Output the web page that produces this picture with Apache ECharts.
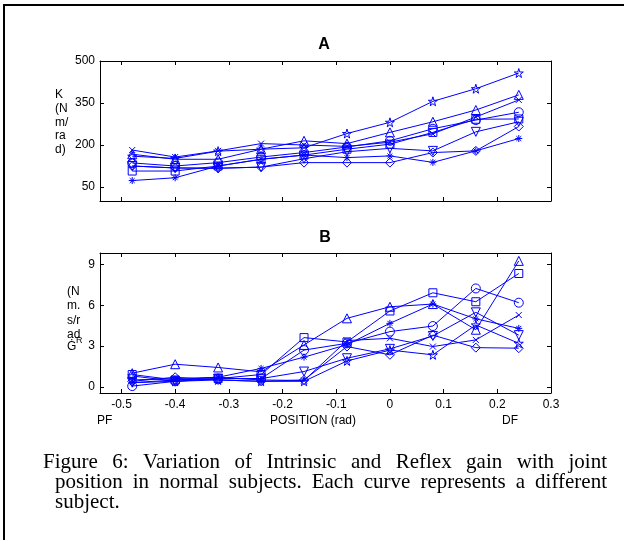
<!DOCTYPE html>
<html><head><meta charset="utf-8">
<script src="https://cdn.jsdelivr.net/npm/echarts@6/dist/echarts.min.js"></script>
<style>html,body{margin:0;padding:0;background:#fff}#c{width:624px;height:540px}</style>
</head><body><div id="c"></div><script>
// ---- data ----
const positions = [-0.48, -0.40, -0.32, -0.24, -0.16, -0.08, 0, 0.08, 0.16, 0.24];
const xTicks = [-0.5, -0.4, -0.3, -0.2, -0.1, 0, 0.1, 0.2, 0.3];
const kTicks = [50, 200, 350, 500];
const gTicks = [0, 3, 6, 9];

// Panel A: intrinsic stiffness K (N m/rad)
const kStar     = [160, 152, 178, 185, 190, 241, 281, 356, 401, 457];
const kTriUp    = [167, 149, 149, 185, 215, 205, 245, 283, 325, 379];
const kCross    = [182, 157, 179, 205, 200, 195, 210, 240, 300, 361];
const kCircle   = [136, 125, 137, 157, 173, 193, 215, 258, 289, 317];
const kSquare   = [107, 107, 125, 149, 164, 185, 203, 245, 292, 293];
const kTriDown  = [125, 118, 117, 121, 151, 176, 188, 179, 247, 283];
const kDiamond  = [125, 118, 117, 121, 137, 137, 137, 173, 179, 266];
const kAsterisk = [73, 83, 125, 149, 164, 155, 161, 138, 179, 223];

// Panel B: reflex gain G^R (N m.s/rad)
const gStar     = [0.8, 0.4, 0.5, 0.4, 0.4, 1.9, 2.7, 2.35, 4.55, 3.2];
const gTriUp    = [1.0, 1.66, 1.42, 1.1, 3.08, 5.04, 5.89, 6.09, 4.2, 9.27];
const gCross    = [0.5, 0.6, 0.7, 0.5, 0.46, 3.4, 3.57, 2.96, 3.45, 5.28];
const gCircle   = [0.05, 0.4, 0.6, 0.6, 2.7, 3.2, 4.06, 4.47, 7.24, 6.19];
const gSquare   = [0.9, 0.5, 0.6, 0.9, 3.62, 3.3, 5.58, 6.92, 6.26, 8.34];
const gTriDown  = [0.3, 0.4, 0.6, 0.6, 1.12, 2.1, 2.79, 3.74, 5.48, 3.8];
const gDiamond  = [0.4, 0.7, 0.5, 0.4, 0.5, 2.96, 2.35, 3.8, 2.88, 2.84];
const gAsterisk = [0.3, 0.5, 0.7, 1.35, 2.18, 3.1, 4.67, 6.09, 5.0, 4.3];

const captionLines = [
  'Figure 6: Variation of Intrinsic and Reflex gain with joint',
  'position in normal subjects. Each curve represents a different',
  'subject.'
];

// ---- styles ----
const BLUE = '#0000ff';
const SANS = 'Liberation Sans';
const SERIF = 'Liberation Serif';
const STAR = 'path://M50,0 L61,35 L98,35 L68,57 L79,91 L50,70 L21,91 L32,57 L2,35 L39,35 Z';
const TRI_DOWN = 'path://M0,0 L100,0 L50,87 Z';
const CROSS = 'path://M0,0 L100,100 M100,0 L0,100';
const ASTER = 'path://M50,0 L50,100 M0,50 L100,50 M15,15 L85,85 M85,15 L15,85';

const subjects = [
  {sym: STAR, size: 9, k: kStar, g: gStar},
  {sym: 'triangle', size: 9, k: kTriUp, g: gTriUp},
  {sym: CROSS, size: 6, k: kCross, g: gCross},
  {sym: 'circle', size: 9, k: kCircle, g: gCircle},
  {sym: 'rect', size: 8, k: kSquare, g: gSquare},
  {sym: TRI_DOWN, size: 9, k: kTriDown, g: gTriDown},
  {sym: 'diamond', size: 9, k: kDiamond, g: gDiamond},
  {sym: ASTER, size: 7, k: kAsterisk, g: gAsterisk}
];

function mkSeries(vals, sym, size, idx) {
  return {
    type: 'line', xAxisIndex: idx, yAxisIndex: idx,
    data: positions.map((x, i) => [x, vals[i]]),
    symbol: sym, symbolSize: size, showAllSymbol: true,
    lineStyle: {color: BLUE, width: 1},
    itemStyle: {color: 'rgba(0,0,0,0)', borderColor: BLUE, borderWidth: 1},
    emphasis: {disabled: true}, silent: true
  };
}

const lbl = {color: '#000', fontFamily: SANS, fontSize: 12};
function xAx(grid, pos, showLabel) {
  return {
    type: 'value', gridIndex: grid, position: pos, min: -0.54, max: 0.3,
    axisLine: {show: true, onZero: false, lineStyle: {color: '#000', width: 1}},
    axisTick: {show: true, inside: true, length: 4, customValues: xTicks, lineStyle: {color: '#000'}},
    axisLabel: Object.assign({show: showLabel, margin: 6, customValues: xTicks, formatter: v => String(v)}, lbl),
    splitLine: {show: false}
  };
}
function yAx(grid, pos, min, max, ticks, showLabel) {
  return {
    type: 'value', gridIndex: grid, position: pos, min: min, max: max,
    axisLine: {show: true, onZero: false, lineStyle: {color: '#000', width: 1}},
    axisTick: {show: true, inside: true, length: 4, customValues: ticks, lineStyle: {color: '#000'}},
    axisLabel: Object.assign({show: showLabel, margin: 5, customValues: ticks, formatter: v => String(v)}, lbl),
    splitLine: {show: false}
  };
}

// caption justification
const mctx = document.createElement('canvas').getContext('2d');
const CAP_FONT = 21;
mctx.font = CAP_FONT + 'px "' + SERIF + '"';
function captionWords(line, x0, x1, cy, justify) {
  const words = line.split(' ');
  const widths = words.map(w => mctx.measureText(w).width);
  const total = widths.reduce((a, b) => a + b, 0);
  const gap = justify && words.length > 1 ? (x1 - x0 - total) / (words.length - 1) : mctx.measureText(' ').width;
  let x = x0;
  return words.map((w, i) => {
    const el = {type: 'text', x: x, y: cy, style: {text: w, fill: '#000', font: CAP_FONT + 'px "' + SERIF + '"', verticalAlign: 'middle', align: 'left'}};
    x += widths[i] + gap;
    return el;
  });
}

const graphics = [
  {type: 'rect', shape: {x: 4, y: 5, width: 800, height: 800}, style: {fill: 'none', stroke: '#000', lineWidth: 2}},
  {type: 'text', x: 324, y: 45, style: {text: 'A', fill: '#000', font: 'bold 16px "' + SANS + '"', align: 'center', verticalAlign: 'middle'}},
  {type: 'text', x: 325, y: 238, style: {text: 'B', fill: '#000', font: 'bold 16px "' + SANS + '"', align: 'center', verticalAlign: 'middle'}},
  {type: 'text', x: 55, y: 88, style: {text: 'K\n(N\nm/\nra\nd)', fill: '#000', font: '12px "' + SANS + '"', lineHeight: 13.75, align: 'left', verticalAlign: 'top'}},
  {type: 'text', x: 67, y: 284, style: {text: '(N\nm.\ns/r\nad', fill: '#000', font: '12px "' + SANS + '"', lineHeight: 14.5, align: 'left', verticalAlign: 'top'}},
  {type: 'text', x: 67, y: 347, style: {text: '\u0120', fill: '#000', font: '12px "' + SANS + '"', align: 'left', verticalAlign: 'middle'}},
  {type: 'text', x: 76, y: 341, style: {text: 'R', fill: '#000', font: '9px "' + SANS + '"', align: 'left', verticalAlign: 'middle'}},
  {type: 'text', x: 97, y: 421, style: {text: 'PF', fill: '#000', font: '12px "' + SANS + '"', align: 'left', verticalAlign: 'middle'}},
  {type: 'text', x: 313, y: 421, style: {text: 'POSITION (rad)', fill: '#000', font: '12px "' + SANS + '"', align: 'center', verticalAlign: 'middle'}},
  {type: 'text', x: 510, y: 421, style: {text: 'DF', fill: '#000', font: '12px "' + SANS + '"', align: 'center', verticalAlign: 'middle'}}
].concat(
  captionWords(captionLines[0], 43, 607, 462, true),
  captionWords(captionLines[1], 55, 607, 482, true),
  captionWords(captionLines[2], 55, 607, 502, false)
);

const option = {
  animation: false,
  backgroundColor: '#fff',
  grid: [
    {left: 100, top: 61, width: 451, height: 140, containLabel: false},
    {left: 100, top: 253, width: 451, height: 140, containLabel: false}
  ],
  xAxis: [xAx(0, 'bottom', false), xAx(1, 'bottom', true), xAx(0, 'top', false), xAx(1, 'top', false)],
  yAxis: [yAx(0, 'left', 0, 500, kTicks, true), yAx(1, 'left', -0.46, 9.85, gTicks, true),
          yAx(0, 'right', 0, 500, kTicks, false), yAx(1, 'right', -0.46, 9.85, gTicks, false)],
  series: subjects.map(s => mkSeries(s.k, s.sym, s.size, 0))
          .concat(subjects.map(s => mkSeries(s.g, s.sym, s.size, 1))),
  graphic: {elements: graphics}
};
const chart = echarts.init(document.getElementById('c'), null, {renderer: 'canvas'});
chart.setOption(option);
</script></body></html>
